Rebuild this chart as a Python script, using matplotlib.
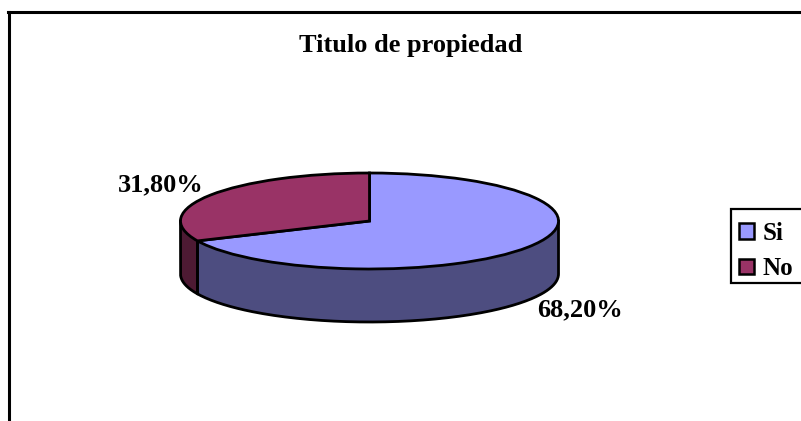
import numpy as np
import matplotlib
matplotlib.use("Agg")
import matplotlib.pyplot as plt
from matplotlib.lines import Line2D

categories = ["Si", "No"]
values = [68.2, 31.8]
top_colors = ["#9999FF", "#993366"]
side_colors = ["#4D4D80", "#4D1A33"]
labels = ["68,20%", "31,80%"]
title = "Titulo de propiedad"

W, H = 801, 421
CX, CY, RX, RY, DEPTH = 369.5, 221, 189, 48, 53
plt.rcParams["font.family"] = ["Liberation Serif", "DejaVu Serif"]

fig = plt.figure(figsize=(W / 100, H / 100), dpi=100, facecolor="white")

# Axes in which the unit circle maps to the pie ellipse
bottom_units = 1 + DEPTH / RY + 0.1
ax_h = RY * (1 + bottom_units)
ax = fig.add_axes([(CX - RX - 2) / W, (H - (CY - RY) - ax_h) / H, (2 * RX + 4) / W, ax_h / H])

# Side walls: visible (front) part of each slice
split = 90 - 360 * values[0] / 100 + 360
lw = 2.0
def wall(a0, a1, col, z):
    t = np.radians(np.linspace(a0, a1, 200))
    x = np.cos(t)
    y = np.sin(t)
    ax.fill_between(x, y, y - DEPTH / RY, color=col, lw=0, zorder=z)
    ax.plot(np.r_[x[0], x, x[-1]], np.r_[y[0], y - DEPTH / RY, y[-1]],
            color="black", lw=lw, zorder=z + 0.5, solid_joinstyle="round")
wall(split, 360, side_colors[0], 1)
wall(180, split, side_colors[1], 1)

wedges, _ = ax.pie(values, colors=top_colors, startangle=90, counterclock=False,
                   wedgeprops=dict(edgecolor="black", linewidth=lw, zorder=3))
ax.set_aspect("auto")
ax.set_xlim(-1 - 2 / RX, 1 + 2 / RX)
ax.set_ylim(-bottom_units, 1)
for w in wedges:
    w.set_clip_on(False)

# Chart frame: only the top and left edges are visible
fig.add_artist(Line2D([9 / W, 9 / W], [0, 1 - 12 / H], color="black", lw=2.2))
fig.add_artist(Line2D([8 / W, 1], [1 - 12 / H, 1 - 12 / H], color="black", lw=2.2))

fig.text(411 / W, 1 - 52 / H, title, ha="center", va="baseline",
         fontsize=19, fontweight="bold")
fig.text(161 / W, 1 - 191 / H, labels[1], ha="center", va="baseline",
         fontsize=19, fontweight="bold")
fig.text(579.5 / W, 1 - 316 / H, labels[0], ha="center", va="baseline",
         fontsize=19, fontweight="bold")

# Legend box drawn separately: its rows sit slightly below the box centre
fig.add_artist(plt.Rectangle((731 / W, 1 - 283 / H), 72 / W, 74 / H, transform=fig.transFigure,
                             facecolor="white", edgecolor="black", lw=1.6))
handles = [plt.Rectangle((0, 0), 1, 1, facecolor=c, edgecolor="black", lw=1.8) for c in top_colors]
leg = fig.legend(handles, categories, loc="center left",
                 bbox_to_anchor=(731 / W, 1 - 251 / H), bbox_transform=fig.transFigure,
                 frameon=False,
                 prop=dict(size=18, weight="bold"), handlelength=0.58, handleheight=0.58,
                 handletextpad=0.36, borderpad=0.32, labelspacing=0.51, borderaxespad=0)

fig.savefig("out.png", dpi=100)
